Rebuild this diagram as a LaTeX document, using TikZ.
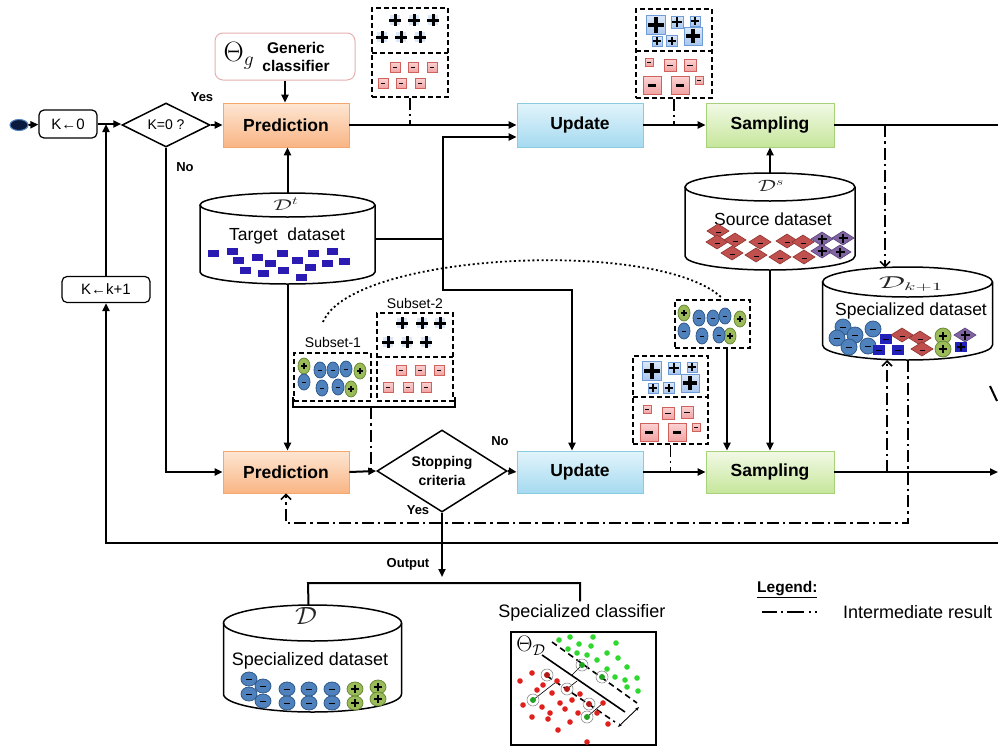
\documentclass[tikz,border=0pt]{standalone}
\usepackage{graphicx}
\usepackage{fontspec}
\setmainfont{Liberation Sans}
\usetikzlibrary{arrows.meta,shapes.geometric,calc}

\definecolor{predTop}{HTML}{FDE6D3}
\definecolor{predBot}{HTML}{F9B584}
\definecolor{predLine}{HTML}{F4A66C}
\definecolor{updTop}{HTML}{E2F4FB}
\definecolor{updBot}{HTML}{A5DAF0}
\definecolor{updLine}{HTML}{8ACBE2}
\definecolor{smpTop}{HTML}{F2F9E6}
\definecolor{smpBot}{HTML}{C6E69B}
\definecolor{smpLine}{HTML}{A8D27A}
\definecolor{genLine}{HTML}{E3AFAF}
\definecolor{navy}{HTML}{0B1B3F}
\definecolor{dotRim}{HTML}{4F81BD}
\definecolor{tgtBlue}{HTML}{2B1BB3}
\definecolor{specBlue}{HTML}{2222BB}
\definecolor{cBlue}{HTML}{4F81BD}
\definecolor{cBlueRim}{HTML}{2F5A8C}
\definecolor{cGreen}{HTML}{9BBB59}
\definecolor{cGreenRim}{HTML}{6A8A36}
\definecolor{dRed}{HTML}{C0504D}
\definecolor{dRedRim}{HTML}{8E3431}
\definecolor{dPurple}{HTML}{8064A2}
\definecolor{dPurpleRim}{HTML}{5A4478}
\definecolor{sqBlue}{HTML}{A9C6EE}
\definecolor{sqBlueTop}{HTML}{DCE8F8}
\definecolor{sqBlueRim}{HTML}{6F9BD6}
\definecolor{sqPink}{HTML}{F2A3A3}
\definecolor{sqPinkTop}{HTML}{FBD3D3}
\definecolor{sqPinkRim}{HTML}{D0625E}
\definecolor{dotGreen}{HTML}{2ED82E}
\definecolor{dotRed}{HTML}{E0201C}

\newcommand\FSize[1]{\fontsize{#1}{#1}\selectfont}

% positive sample: blue square with a plus
\newcommand\PlusSq[3]{%
  \draw[draw=sqBlueRim, top color=sqBlueTop, bottom color=sqBlue, line width=0.7pt]
    (#1-#3/2,#2-#3/2) rectangle (#1+#3/2,#2+#3/2);
  \draw[line width={max(2,#3*0.17)}] (#1-#3*0.4,#2) -- (#1+#3*0.4,#2) (#1,#2-#3*0.4) -- (#1,#2+#3*0.4);}
% positive sample drawn as a heavy plus on a faint blue tile
\newcommand\PlusMark[2]{%
  \fill[sqBlueTop] (#1-5,#2-5) rectangle (#1+5,#2+5);
  \draw[line width=3pt] (#1-6,#2) -- (#1+6,#2) (#1,#2-6) -- (#1,#2+6);}
% negative sample: pink square with a minus
\newcommand\MinusSq[3]{%
  \draw[draw=sqPinkRim, top color=sqPinkTop, bottom color=sqPink, line width=0.7pt]
    (#1-#3/2,#2-#3/2) rectangle (#1+#3/2,#2+#3/2);
  \draw[line width={max(1.3,#3*0.12)}] (#1-#3*0.22,#2+0.5) -- (#1+#3*0.22,#2+0.5);}
% blue oval with minus, green oval with plus
\newcommand\BlueOval[4]{%
  \draw[fill=cBlue, draw=cBlueRim, line width=0.8pt] (#1,#2) ellipse [x radius=#3, y radius=#4];
  \draw[line width=1.4pt] (#1-#3*0.35,#2+0.5) -- (#1+#3*0.35,#2+0.5);}
\newcommand\GreenOval[4]{%
  \draw[fill=cGreen, draw=cGreenRim, line width=0.8pt] (#1,#2) ellipse [x radius=#3, y radius=#4];
  \draw[line width={#3*0.25}] (#1-#3*0.5,#2) -- (#1+#3*0.5,#2) (#1,#2-#3*0.5) -- (#1,#2+#3*0.5);}
% diamonds of the source domain
\newcommand\RedDia[2]{%
  \draw[fill=dRed, draw=dRedRim, line width=0.6pt] (#1-11,#2) -- (#1,#2-7) -- (#1+11,#2) -- (#1,#2+7) -- cycle;
  \draw[line width=1.4pt] (#1-2.5,#2+1.5) -- (#1+2.5,#2+1.5);}
\newcommand\PurpleDia[2]{%
  \draw[fill=dPurple, draw=dPurpleRim, line width=0.6pt] (#1-11,#2) -- (#1,#2-7) -- (#1+11,#2) -- (#1,#2+7) -- cycle;
  \draw[line width=2pt] (#1-4.5,#2) -- (#1+4.5,#2) (#1,#2-4.5) -- (#1,#2+4.5);}
% unlabelled target sample
\newcommand\TgtRect[2]{\fill[tgtBlue] (#1-5.5,#2-3.5) rectangle (#1+5.5,#2+3.5);}
\newcommand\NavySq[2]{\fill[specBlue] (#1-6,#2-5) rectangle (#1+6,#2+5);
  \draw[line width=1.3pt] (#1-3,#2+0.5) -- (#1+3,#2+0.5);}
% database outline: centre x, top centre y, bottom centre y, rx, ry
\newcommand\Cylinder[5]{%
  \draw[line width=1.5pt] (#1-#4,#2) -- (#1-#4,#3)
    arc[start angle=180, end angle=0, x radius=#4, y radius=#5] -- (#1+#4,#2);
  \draw[line width=1.5pt] (#1,#2) ellipse [x radius=#4, y radius=#5];}

\begin{document}
\begin{tikzpicture}[x=1pt,y=-1pt,
  mainline/.style={line width=2pt},
  mainarrow/.style={line width=2pt,-{Triangle[length=8pt,width=7pt]}},
  inter/.style={line width=1.6pt,dash pattern=on 12pt off 4pt on 2.5pt off 4pt},
  interarrow/.style={inter,-{Straight Barb[length=5pt,width=10pt]}},
  stagebox/.style={draw, line width=0.8pt, minimum width=126pt, minimum height=44pt,
    inner sep=0pt, font=\FSize{17.5}\bfseries},
  predbox/.style={stagebox, draw=predLine, top color=predTop, bottom color=predBot},
  updbox/.style={stagebox, draw=updLine, top color=updTop, bottom color=updBot},
  smpbox/.style={stagebox, draw=smpLine, top color=smpTop, bottom color=smpBot, minimum width=128pt},
  resbox/.style={draw, dash pattern=on 5pt off 3pt, line width=1.6pt, inner sep=0pt},
  resline/.style={dash pattern=on 5pt off 3pt, line width=1.6pt},
  smalltag/.style={font=\FSize{13}\bfseries, inner sep=0pt},
  dbtext/.style={font=\FSize{17.5}, inner sep=0pt},
  dblabel/.style={inner sep=0pt, text=black!85},
]
\useasboundingbox (0,0) rectangle (998,747);

% ---------- start and counter ----------
\node[ellipse, draw=dotRim, fill=navy, line width=1pt, minimum width=18pt, minimum height=11pt, inner sep=0pt] (start) at (19,125) {};
\node[rounded corners=5pt, draw, line width=1.2pt, minimum width=58pt, minimum height=28pt, inner sep=0pt, font=\FSize{15}] (kzero) at (68,124) {K←0};
\node[diamond, draw, line width=1.5pt, aspect=2, minimum width=88pt, minimum height=44pt, inner sep=0pt, font=\FSize{14}] (kcheck) at (166,125) {K=0 ?};
\node[rounded corners=5pt, draw, line width=1.2pt, minimum width=88pt, minimum height=26pt, inner sep=0pt, font=\FSize{15}] (kinc) at (106,289.5) {K←k+1};
\node[smalltag] (yes1) at (202,97) {Yes};
\node[smalltag] (no1) at (185,167) {No};

% ---------- stages ----------
\node[predbox] (pred1) at (286,125) {Prediction};
\node[updbox] (upd1) at (580,125) {Update};
\node[smpbox] (samp1) at (770,125) {Sampling};
\node[predbox, minimum height=42pt] (pred2) at (286,472) {Prediction};
\node[updbox, minimum height=42pt] (upd2) at (580,472) {Update};
\node[smpbox, minimum height=42pt] (samp2) at (770,472) {Sampling};
\node[diamond, draw, line width=1.5pt, aspect=1.6, minimum width=130pt, minimum height=82pt, inner sep=0pt, align=center, font=\FSize{14}\bfseries] (stop) at (442,471) {Stopping\\[5pt]criteria};
\node[smalltag] (no2) at (500,441) {No};
\node[smalltag] (yes2) at (418,510) {Yes};
\node[smalltag] (output) at (408,564) {Output};

% ---------- generic classifier ----------
\node[draw=genLine, line width=1pt, rounded corners=8pt, minimum width=140pt, minimum height=47pt, inner sep=0pt] (generic) at (285,56.5) {};
\node[font=\FSize{20}, inner sep=0pt] (thetag) at (239,56) {\scalebox{1.35}{$\Theta_g$}};
\node[font=\FSize{15.5}\bfseries, align=center, inner sep=0pt] (gentext) at (296,57) {Generic\\[2pt]classifier};

% ---------- target dataset ----------
\Cylinder{287.5}{205}{272}{87.5}{12}
\node[minimum width=175pt, minimum height=91pt, inner sep=0pt] (target) at (287.5,238.5) {};
\node[dblabel, font=\FSize{18}] (dt) at (286,204) {\scalebox{1.35}[0.9]{$\mathcal{D}^t$}};
\node[dbtext] (tgtlabel) at (287,236) {Target\ \ dataset};
\foreach \a/\b in {213/253,232/251,238/260,257/257,270/263,282/253,297/260,313/253,332/251,344/261,327/263,310/267,283/270,263/273,245/270,301/277}
  {\TgtRect{\a}{\b}}

% ---------- source dataset ----------
\Cylinder{770}{187}{256}{85}{14}
\node[minimum width=170pt, minimum height=97pt, inner sep=0pt] (source) at (770,221.5) {};
\node[dblabel, font=\FSize{18}] (ds) at (771,186) {\scalebox{1.3}[0.95]{$\mathcal{D}^s$}};
\node[dbtext] (srclabel) at (773,219) {Source dataset};
\foreach \a/\b in {718/231,717/242,735/240,760/242,787/241,803/242,732/253,756/255,780/257,804/257}
  {\RedDia{\a}{\b}}
\foreach \a/\b in {822/239,843/238,822/251,840/252}
  {\PurpleDia{\a}{\b}}

% ---------- specialized dataset (iteration k+1) ----------
\Cylinder{907.5}{282}{345}{85}{15}
\node[minimum width=170pt, minimum height=93pt, inner sep=0pt] (specR) at (907.5,313.5) {};
\node[dblabel, font=\FSize{16}] (dk) at (911,284) {\scalebox{1.9}[1]{$\mathcal{D}_{k+1}$}};
\node[dbtext] (speclabelR) at (911,311) {Specialized dataset};
\foreach \a/\b in {843/327,837/338,855/335,849/347,873/329,868/346}
  {\BlueOval{\a}{\b}{8}{8}}
\foreach \a/\b in {886/339,879/350,898/350}
  {\NavySq{\a}{\b}}
\foreach \a/\b in {902/335,920/338,922/349}
  {\RedDia{\a}{\b}}
\GreenOval{943}{336}{8}{8}
\GreenOval{943}{349}{8}{8}
\PurpleDia{965}{335}
\fill[specBlue] (955,342) rectangle (967,352);
\draw[line width=2pt] (957,347) -- (965,347) (961,343) -- (961,351);

% ---------- specialized dataset (output) ----------
\Cylinder{312.5}{623}{694}{89}{18}
\node[minimum width=178pt, minimum height=107pt, inner sep=0pt] (Dbot) at (312.5,658.5) {};
\node[dblabel, font=\FSize{24}] (dfinal) at (306,616) {\scalebox{1.1}[1]{$\mathcal{D}$}};
\node[dbtext, font=\FSize{18}] (speclabelB) at (310,661) {Specialized dataset};
\foreach \a/\b in {249/679,263/686,249/694,263/701,287/689,287/703,309/689,309/703,332/689,332/703}
  {\BlueOval{\a}{\b}{8}{7}}
\foreach \a/\b in {355/689,355/703,378/687,378/699}
  {\GreenOval{\a}{\b}{8}{7}}

% ---------- intermediate results (top) ----------
\node[resbox, minimum width=76pt, minimum height=89pt] (res1) at (410,52.5) {};
\draw[resline] (372,53) -- (448,53);
\foreach \a/\b in {395/20,414/20,433/20,382/37,401/37,420/37}
  {\PlusMark{\a}{\b}}
\foreach \a/\b in {395/67,413/67,432/67,383/83,401/83,420/83}
  {\MinusSq{\a}{\b}{10}}

\node[resbox, minimum width=76pt, minimum height=89pt] (res2) at (674,53.5) {};
\draw[resline] (636,51) -- (712,51);
\foreach \a/\b/\s in {656/25/19,677/22/12,695/21/10,657/41/10,672/41/11,693/36/18}
  {\PlusSq{\a}{\b}{\s}}
\foreach \a/\b/\s in {649/62/8,670/65/12,690/65/12,652/85/18,680/85/18,699/80/8}
  {\MinusSq{\a}{\b}{\s}}

% ---------- intermediate results (bottom) ----------
\node[resbox, minimum width=75pt, minimum height=88pt] (res3) at (670.5,400) {};
\draw[resline] (633,397) -- (708,397);
\foreach \a/\b/\s in {652/371/19,674/368/12,692/367/10,653/388/10,669/388/11,690/383/18}
  {\PlusSq{\a}{\b}{\s}}
\foreach \a/\b/\s in {647/409/8,668/413/12,687/412/12,649/432/18,677/432/18,696/427/8}
  {\MinusSq{\a}{\b}{\s}}

\node[resbox, minimum width=75pt, minimum height=48pt] (circ) at (712.5,324) {};
\foreach \a/\b in {684/313,740/319,730/336}
  {\GreenOval{\a}{\b}{6}{8}}
\foreach \a/\b in {699/318,713/318,725/316,684/331,702/336,719/335}
  {\BlueOval{\a}{\b}{6}{8}}

% ---------- subsets ----------
\node[font=\FSize{14}, inner sep=0pt] (sub2label) at (415,303) {Subset-2};
\node[resbox, minimum width=76pt, minimum height=88pt] (sub2) at (415,357) {};
\draw[resline] (377,357) -- (453,357);
\foreach \a/\b in {402/323,422/323,440/323,388/342,407/342,426/342}
  {\PlusMark{\a}{\b}}
\foreach \a/\b in {401/370,420/370,439/370,388/387,408/387,426/387}
  {\MinusSq{\a}{\b}{10}}

\node[font=\FSize{14}, inner sep=0pt] (sub1label) at (333,342) {Subset-1};
\node[resbox, minimum width=77pt, minimum height=48pt] (sub1) at (332.5,377) {};
\foreach \a/\b in {304/366,360/371,351/389}
  {\GreenOval{\a}{\b}{6}{8}}
\foreach \a/\b in {304/382,320/370,333/370,346/369,322/388,338/387}
  {\BlueOval{\a}{\b}{6}{8}}
\draw[line width=2pt] (293,397) -- (293,407) -- (455,407) -- (455,397);
\coordinate (bracket) at (371,407);
\draw[line width=1.8pt, dash pattern=on 2pt off 2.6pt] (323,322) .. controls (352,252) and (660,238) .. (722,298);

% ---------- main flow ----------
\draw[mainarrow] (start) -- (kzero);
\draw[mainarrow] (kzero.east) -- (kzero.east -| kcheck.west);
\draw[mainarrow] (kcheck.east) -- (pred1.west);
\draw[mainarrow] (kcheck.south) |- (pred2.west);
\draw[mainarrow] (generic.south) -- (generic.south |- pred1.north);
\draw[mainarrow] (target.north) -- (target.north |- pred1.south);
\draw[mainarrow] (target.south) -- (target.south |- pred2.north);
\draw[mainarrow] (pred1.east) -- (upd1.west);
\draw[mainarrow] (upd1.east) -- (samp1.west);
\coordinate (eastTop) at (998,125);
\draw[mainline] (samp1.east) -- (eastTop);
\draw[mainarrow] (source.north) -- (source.north |- samp1.south);
\draw[mainarrow] (source.south) -- (source.south |- samp2.north);

\coordinate (jn) at (443,238.5);
\coordinate (jn2) at (443,290);
\coordinate (upd1low) at ($(upd1.west)+(0,12)$);
\coordinate (upd2in) at ($(upd2.north)+(-8,0)$);
\draw[mainline] (target.east) -- (jn);
\draw[mainarrow] (jn) |- (upd1low);
\draw[mainarrow] (jn) -- (jn2) -| (upd2in);

\draw[mainarrow] (pred2.east) -- (stop.west);
\draw[mainarrow] (stop.east) -- (upd2.west);
\draw[mainarrow] (upd2.east) -- (samp2.west);
\coordinate (eastBot) at (998,472);
\draw[mainarrow] (samp2.east) -- (eastBot);
\coordinate (circOut) at (727,348);
\draw[mainarrow] (circOut) -- (circOut |- samp2.north);

% loop back to the counter
\coordinate (loopEast) at (998,543);
\draw[mainarrow] (loopEast) -| (kinc.south);
\draw[mainarrow] (kinc.north) -- (kinc.north |- kzero.east);

% output
\coordinate (outEnd) at (442,577);
\draw[mainarrow] (stop.south) -- (outEnd);
\node[font=\FSize{18}, inner sep=0pt] (clslabel) at (582,613) {Specialized classifier};
\coordinate (split) at (308,583);
\draw[mainline] ($(Dbot.north)+(-4,0)$) -- (split) -| ($(clslabel.north)+(-2,-3)$);

% ---------- intermediate-result links ----------
\draw[inter] (res1.south) -- (res1.south |- pred1.east);
\draw[inter] (res2.south) -- (res2.south |- upd1.east);
\draw[inter] (res3.south) -- (res3.south |- samp2.west);
\draw[inter] (bracket) -- (bracket |- pred2.east);
\coordinate (tapTop) at (885,125);
\coordinate (specIn) at (885,267.5);
\draw[interarrow] (tapTop) -- (specIn);
\coordinate (tapBot) at (887,472);
\coordinate (specIn2) at (887,360);
\draw[interarrow] (tapBot) -- (specIn2);
\coordinate (specOut) at (908,360);
\coordinate (fbTurn) at (908,523);
\draw[interarrow] (specOut) -- (fbTurn) -| (pred2.south);

% ---------- specialized classifier plot ----------
\node[draw, line width=1.5pt, minimum width=145pt, minimum height=113pt, inner sep=0pt] (cls) at (583.5,688.5) {};
\node[font=\FSize{17}, inner sep=0pt] (thetaD) at (531,646) {\scalebox{1.3}{$\Theta_{\mathcal{D}}$}};
\draw[line width=1.6pt] (542,655) -- (625,712);
\draw[line width=1.6pt, dash pattern=on 6pt off 4pt] (552,642) -- (637,703);
\draw[line width=1.6pt, dash pattern=on 6pt off 4pt] (547,676) -- (615,722);
\draw[line width=0.9pt, {Stealth[length=4pt]}-{Stealth[length=4pt]}] (618,727) -- (639,707);
\draw[line width=0.6pt] (533,700) -- (556,682) (582,665) -- (571,676) (587,717) -- (603,703) (567,689) -- (577,681);
\foreach \p in {(559,640),(570,637),(579,644),(593,637),(591,646),(616,643),(568,649),(577,653),(587,655),(607,653),(597,660),(618,658),(627,667),(637,678),(615,677),(607,669),(625,680),(627,687),(638,691)}
  \fill[dotGreen] \p circle[radius=2.8];
\foreach \p in {(520,681),(532,673),(543,685),(557,681),(537,690),(552,693),(523,705),(542,707),(560,703),(572,700),(580,694),(550,713),(565,709),(578,713),(532,717),(548,719),(570,722),(597,713),(608,724),(558,730),(587,742),(603,703)}
  \fill[dotRed] \p circle[radius=2.8];
\foreach \p in {(582,665),(602,677),(533,700),(587,717)}
  {\draw[black!45, line width=0.6pt] \p circle[radius=6]; \fill[dotGreen!75!black] \p circle[radius=3];}
\foreach \p in {(547,675),(567,689),(589,704)}
  {\draw[black!45, line width=0.6pt] \p circle[radius=6]; \fill[dotRed!80!black] \p circle[radius=3];}

% ---------- legend ----------
\node[font=\FSize{15.5}\bfseries, inner sep=0pt, anchor=west] (legtitle) at (757,590) {\underline{Legend:}};
\coordinate (legA) at (762,612);
\coordinate (legB) at (822,612);
\draw[line width=1.6pt, dash pattern=on 15pt off 4pt on 2pt off 4pt on 17pt off 5pt on 2pt off 4pt on 2pt off 40pt] (legA) -- (legB);
\node[font=\FSize{18}, inner sep=0pt, anchor=west] (legtext) at (843,612) {Intermediate result};

% clipped stroke at the right border
\draw[line width=2pt] (990,386) -- (997,401);
\end{tikzpicture}
\end{document}
